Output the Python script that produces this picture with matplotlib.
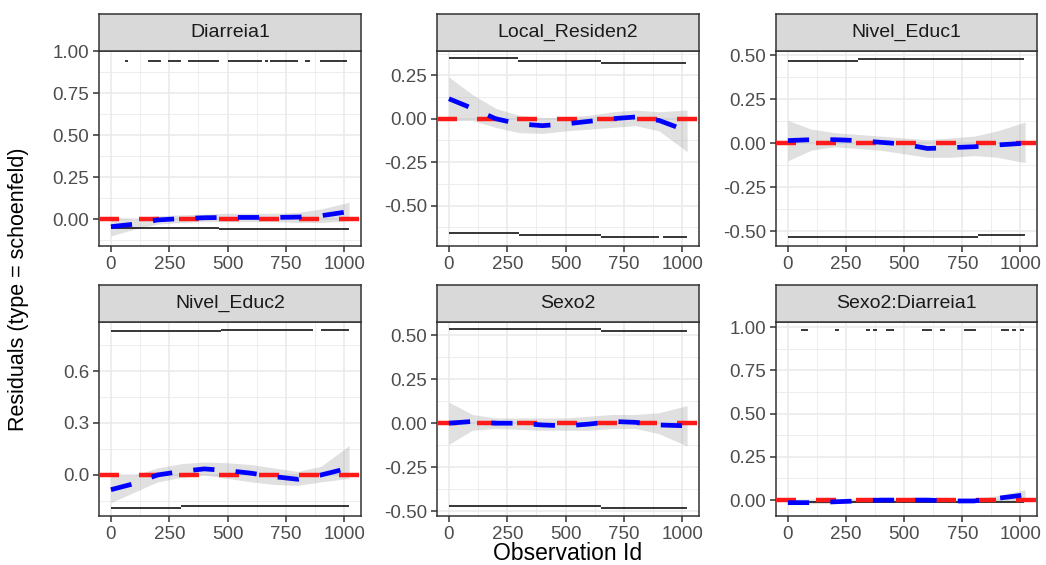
import matplotlib
matplotlib.use("Agg")
import matplotlib.pyplot as plt
from matplotlib.ticker import FixedLocator, MultipleLocator, FormatStrFormatter

plt.rcParams['font.family'] = ['Liberation Sans', 'DejaVu Sans']

# panel names (facet order)
panels = ['Diarreia1', 'Local_Residen2', 'Nivel_Educ1',
          'Nivel_Educ2', 'Sexo2', 'Sexo2:Diarreia1']

# loess smooth
smooth_x = [0, 100, 200, 300, 400, 500, 600, 700, 800, 900, 1020]
smooth_y = {
    'Diarreia1':       [-0.045, -0.03, -0.005, 0.003, 0.008, 0.01, 0.01, 0.01, 0.012, 0.02, 0.045],
    'Local_Residen2':  [0.115, 0.06, 0.0, -0.03, -0.04, -0.03, -0.015, 0.0, 0.01, -0.01, -0.07],
    'Nivel_Educ1':     [0.015, 0.02, 0.02, 0.015, 0.005, -0.005, -0.03, -0.025, -0.02, -0.01, 0.0],
    'Nivel_Educ2':     [-0.085, -0.05, 0.0, 0.02, 0.035, 0.025, 0.01, -0.01, -0.025, 0.0, 0.04],
    'Sexo2':           [0.0, 0.01, 0.0, 0.0, -0.01, -0.015, -0.005, 0.01, 0.005, -0.01, -0.015],
    'Sexo2:Diarreia1': [-0.015, -0.015, -0.01, -0.005, 0.0, 0.0, 0.0, -0.005, -0.005, 0.01, 0.03],
}
smooth_lo = {
    'Diarreia1':       [-0.10, -0.06, -0.03, -0.02, -0.015, -0.015, -0.015, -0.015, -0.02, -0.02, -0.01],
    'Local_Residen2':  [-0.01, -0.01, -0.05, -0.08, -0.085, -0.07, -0.06, -0.05, -0.04, -0.07, -0.19],
    'Nivel_Educ1':     [-0.10, -0.04, -0.02, -0.03, -0.04, -0.06, -0.08, -0.08, -0.07, -0.08, -0.11],
    'Nivel_Educ2':     [-0.16, -0.10, -0.04, -0.015, 0.0, -0.02, -0.04, -0.055, -0.06, -0.04, -0.02],
    'Sexo2':           [-0.12, -0.04, -0.03, -0.035, -0.04, -0.04, -0.04, -0.03, -0.03, -0.06, -0.13],
    'Sexo2:Diarreia1': [-0.025, -0.02, -0.02, -0.015, -0.01, -0.01, -0.01, -0.015, -0.015, -0.005, 0.0],
}
smooth_hi = {
    'Diarreia1':       [0.01, 0.0, 0.02, 0.025, 0.03, 0.035, 0.035, 0.035, 0.04, 0.06, 0.10],
    'Local_Residen2':  [0.24, 0.14, 0.06, 0.02, 0.005, 0.01, 0.02, 0.04, 0.05, 0.04, 0.05],
    'Nivel_Educ1':     [0.13, 0.08, 0.06, 0.05, 0.04, 0.03, 0.02, 0.03, 0.04, 0.07, 0.12],
    'Nivel_Educ2':     [0.0, 0.0, 0.04, 0.065, 0.075, 0.07, 0.06, 0.04, 0.02, 0.05, 0.17],
    'Sexo2':           [0.12, 0.05, 0.03, 0.03, 0.03, 0.03, 0.04, 0.05, 0.05, 0.06, 0.10],
    'Sexo2:Diarreia1': [0.0, 0.0, 0.0, 0.005, 0.01, 0.01, 0.01, 0.005, 0.008, 0.025, 0.06],
}

# residual points: runs of observations (start id, end id, residual)
residual_runs = {
    'Diarreia1': [(60, 75, 0.94), (160, 213, 0.94), (245, 302, 0.94), (328, 461, 0.94),
                  (503, 648, 0.94), (660, 671, 0.94), (681, 801, 0.94), (830, 851, 0.94),
                  (894, 1011, 0.94), (0, 465, -0.055), (465, 1020, -0.061)],
    'Local_Residen2': [(0, 298, 0.348), (298, 650, 0.332), (650, 1015, 0.32),
                       (0, 300, -0.66), (300, 650, -0.67), (650, 900, -0.683), (915, 1020, -0.683)],
    'Nivel_Educ1': [(0, 300, 0.466), (300, 1015, 0.476), (0, 818, -0.534), (818, 1020, -0.523)],
    'Nivel_Educ2': [(0, 470, 0.831), (470, 866, 0.838), (898, 1020, 0.838),
                    (0, 300, -0.189), (300, 1020, -0.179)],
    'Sexo2': [(0, 650, 0.536), (650, 1020, 0.522), (0, 650, -0.469), (650, 1020, -0.48)],
    'Sexo2:Diarreia1': [(57, 88, 0.985), (201, 218, 0.985), (338, 352, 0.985), (368, 385, 0.985),
                        (420, 455, 0.985), (576, 618, 0.985), (653, 675, 0.985), (759, 809, 0.985),
                        (915, 950, 0.985), (965, 979, 0.985), (996, 1014, 0.985), (0, 1015, -0.012)],
}

y_limits = {
    'Diarreia1': (-0.16, 1.0),
    'Local_Residen2': (-0.733, 0.39),
    'Nivel_Educ1': (-0.583, 0.523),
    'Nivel_Educ2': (-0.237, 0.883),
    'Sexo2': (-0.528, 0.576),
    'Sexo2:Diarreia1': (-0.092, 1.029),
}
y_ticks = {
    'Diarreia1': [0, 0.25, 0.5, 0.75, 1.0],
    'Local_Residen2': [-0.5, -0.25, 0, 0.25],
    'Nivel_Educ1': [-0.5, -0.25, 0, 0.25, 0.5],
    'Nivel_Educ2': [0, 0.3, 0.6],
    'Sexo2': [-0.5, -0.25, 0, 0.25, 0.5],
    'Sexo2:Diarreia1': [0, 0.25, 0.5, 0.75, 1.0],
}
x_ticks = [0, 250, 500, 750, 1000]

W, H = 1046, 565
fig = plt.figure(figsize=(W / 100, H / 100), dpi=100)

cols = [(99, 361), (437, 699), (776, 1037)]
rows = [(14, 51, 246), (285, 322, 516)]  # strip top, strip bottom, panel bottom (px)

for i, name in enumerate(panels):
    l, r = cols[i % 3]
    st, sb, pb = rows[i // 3]
    ax = fig.add_axes([l / W, 1 - pb / H, (r - l) / W, (pb - sb) / H])
    sax = fig.add_axes([l / W, 1 - sb / H, (r - l) / W, (sb - st) / H])

    # strip
    sax.set_facecolor('#D9D9D9')
    sax.set_xticks([])
    sax.set_yticks([])
    for sp in sax.spines.values():
        sp.set_color('#333333')
        sp.set_linewidth(1.1)
    sax.text(0.5, 0.5, name, ha='center', va='center', fontsize=14,
             color='#1A1A1A', transform=sax.transAxes)

    ax.fill_between(smooth_x, smooth_lo[name], smooth_hi[name],
                    color='#999999', alpha=0.3, lw=0, zorder=1)
    for x0, x1, y in residual_runs[name]:
        ax.hlines(y, x0, x1, color='black', lw=1.1, zorder=2)
    ax.axhline(0, color='#FF1A1A', lw=3.2, dashes=(4.5, 4.5), zorder=3)
    ax.plot(smooth_x, smooth_y[name], color='#0000FF', lw=3.4,
            dashes=(4.5, 4.5), zorder=4)

    ax.set_xlim(-51, 1071)
    ax.set_ylim(*y_limits[name])
    ax.xaxis.set_major_locator(FixedLocator(x_ticks))
    ax.xaxis.set_minor_locator(FixedLocator([125, 375, 625, 875]))
    yt = y_ticks[name]
    step = yt[1] - yt[0]
    ax.yaxis.set_major_locator(FixedLocator(yt))
    ax.yaxis.set_minor_locator(MultipleLocator(step / 2))
    ax.yaxis.set_major_formatter(FormatStrFormatter('%.1f' if name == 'Nivel_Educ2' else '%.2f'))
    ax.grid(True, which='major', color='#EBEBEB', lw=1.2)
    ax.grid(True, which='minor', color='#EBEBEB', lw=0.6)
    ax.set_axisbelow(True)
    ax.tick_params(which='major', length=4, width=1.1, color='#333333',
                   labelsize=13.5, labelcolor='#4D4D4D', pad=3)
    ax.tick_params(which='minor', length=0)
    for sp in ax.spines.values():
        sp.set_color('#333333')
        sp.set_linewidth(1.1)

fig.text(19 / W, 1 - 289 / H, 'Residuals (type = schoenfeld)', rotation=90,
         ha='center', va='center', fontsize=15.5, color='black')
fig.text(568 / W, 1 - 554 / H, 'Observation Id', ha='center', va='center',
         fontsize=16.5, color='black')

fig.savefig('out.png', dpi=100)
